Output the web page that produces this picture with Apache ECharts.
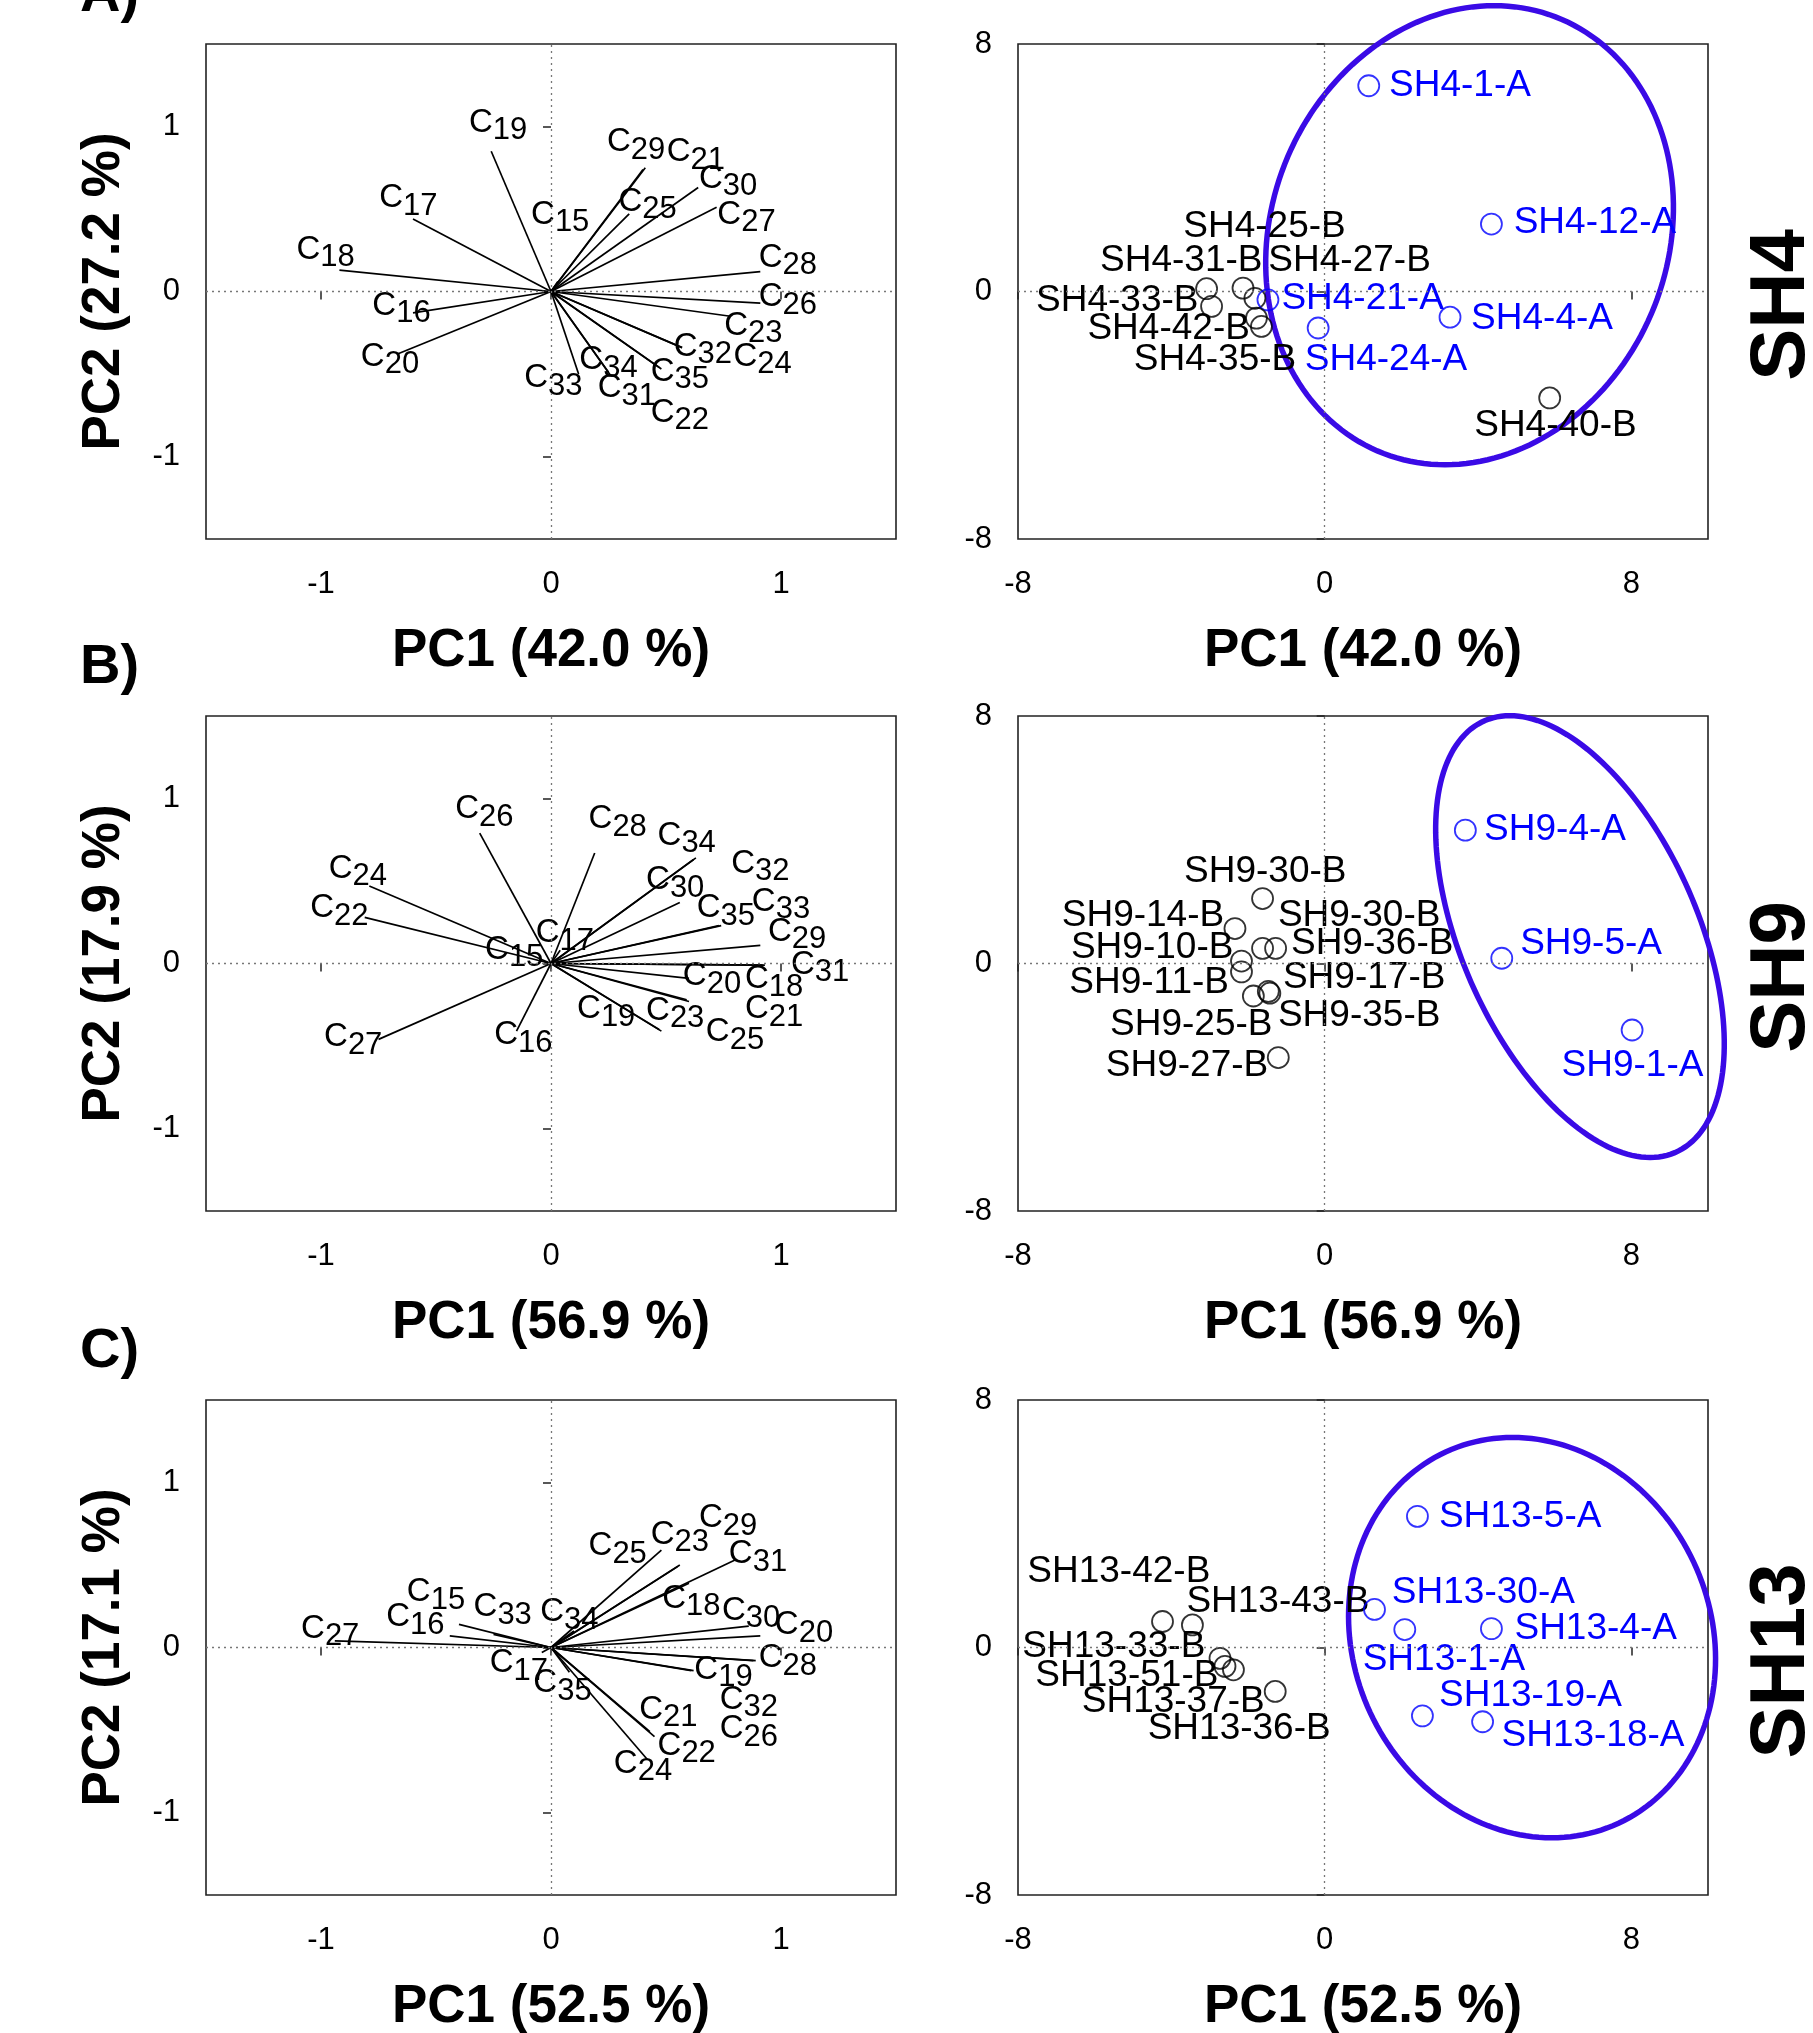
<!DOCTYPE html>
<html><head><meta charset="utf-8">
<script src="https://cdn.jsdelivr.net/npm/echarts@6/dist/echarts.min.js"></script>
<style>html,body{margin:0;padding:0;background:#fff}#c{width:1813px;height:2033px}</style>
</head><body><div id="c"></div>
<script>
// ---------------- DATA ----------------
const loadNums = [15,16,17,18,19,20,21,22,23,24,25,26,27,28,29,30,31,32,33,34,35];

// Panel A (SH4) loadings
const loadXA = [0.03,-0.60,-0.60,-0.92,-0.26,-0.67,0.40,0.47,0.78,0.57,0.34,0.91,0.72,0.91,0.41,0.64,0.26,0.57,0.12,0.25,0.48];
const loadYA = [0.06,-0.13,0.44,0.13,0.85,-0.38,0.74,-0.46,-0.15,-0.34,0.47,-0.07,0.51,0.12,0.75,0.63,-0.51,-0.34,-0.50,-0.49,-0.47];
const labXA  = [0.04,-0.65,-0.62,-0.98,-0.23,-0.70,0.63,0.56,0.88,0.92,0.42,1.03,0.85,1.03,0.37,0.77,0.33,0.66,0.01,0.25,0.56];
const labYA  = [0.44,-0.11,0.54,0.23,1.00,-0.42,0.82,-0.76,-0.23,-0.42,0.52,-0.06,0.44,0.18,0.88,0.66,-0.61,-0.36,-0.55,-0.44,-0.51];

// Panel B (SH9) loadings
const loadXB = [-0.05,-0.15,0.04,0.92,0.48,0.60,0.59,-0.81,0.60,-0.79,0.47,-0.31,-0.75,0.19,0.91,0.56,0.93,0.62,0.73,0.63,0.74];
const loadYB = [0.02,-0.41,0.08,-0.01,-0.41,-0.09,-0.22,0.28,-0.23,0.47,-0.40,0.79,-0.46,0.67,0.11,0.37,-0.01,0.63,0.23,0.64,0.23];
const labXB  = [-0.16,-0.12,0.06,0.97,0.24,0.70,0.97,-0.92,0.54,-0.84,0.80,-0.29,-0.86,0.29,1.07,0.54,1.17,0.91,1.00,0.59,0.76];
const labYB  = [0.06,-0.46,0.16,-0.12,-0.30,-0.10,-0.30,0.31,-0.31,0.55,-0.44,0.91,-0.47,0.85,0.17,0.48,-0.03,0.58,0.35,0.75,0.31];

// Panel C (SH13) loadings
const loadXC = [-0.40,-0.44,-0.04,0.60,0.62,0.91,0.43,0.45,0.56,0.42,0.48,0.88,-0.94,0.89,0.55,0.86,0.80,0.61,-0.25,0.10,0.08];
const loadYC = [0.14,0.07,-0.03,0.39,-0.14,0.07,-0.51,-0.54,0.50,-0.68,0.59,-0.08,0.04,-0.08,0.49,0.13,0.53,-0.14,0.08,0.10,-0.15];
const labXC  = [-0.50,-0.59,-0.14,0.61,0.75,1.10,0.51,0.59,0.56,0.40,0.29,0.86,-0.96,1.03,0.77,0.87,0.90,0.86,-0.21,0.08,0.05];
const labYC  = [0.31,0.16,-0.12,0.27,-0.16,0.11,-0.40,-0.62,0.66,-0.73,0.59,-0.52,0.09,-0.09,0.76,0.20,0.54,-0.34,0.22,0.19,-0.24];

// Panel A scores
const scoreNamesA = ['SH4-1-A','SH4-12-A','SH4-25-B','SH4-31-B','SH4-27-B','SH4-21-A','SH4-33-B','SH4-4-A','SH4-42-B','SH4-35-B','SH4-24-A','SH4-40-B'];
const scoreXA = [1.15,4.35,-2.13,-3.08,-1.82,-1.48,-2.95,3.27,-1.78,-1.65,-0.17,5.87];
const scoreYA = [6.65,2.18,0.11,0.09,-0.22,-0.27,-0.48,-0.83,-0.86,-1.13,-1.18,-3.44];
const scoreLabXA = [3.53,7.05,-1.57,-3.74,0.65,0.99,-5.41,5.67,-4.07,-2.86,1.60,6.02];
const scoreLabYA = [6.65,2.21,2.09,1.00,1.00,-0.25,-0.31,-0.89,-1.20,-2.22,-2.22,-4.33];

// Panel B scores
const scoreNamesB = ['SH9-4-A','SH9-5-A','SH9-1-A','SH9-30-B','SH9-14-B','SH9-30-B','SH9-10-B','SH9-36-B','SH9-11-B','SH9-17-B','SH9-25-B','SH9-35-B','SH9-27-B'];
const scoreXB = [3.67,4.62,8.02,-1.62,-2.34,-1.62,-2.17,-1.28,-2.17,-1.47,-1.86,-1.43,-1.21];
const scoreYB = [4.31,0.17,-2.15,2.10,1.13,0.49,0.08,0.49,-0.27,-0.90,-1.05,-0.96,-3.04];
const scoreLabXB = [6.01,6.95,8.03,-1.55,-4.74,0.90,-4.50,1.24,-4.58,1.03,-3.48,0.90,-3.59];
const scoreLabYB = [4.32,0.65,-3.31,2.98,1.54,1.54,0.50,0.65,-0.63,-0.47,-1.97,-1.69,-3.31];

// Panel C scores
const scoreNamesC = ['SH13-5-A','SH13-42-B','SH13-43-B','SH13-30-A','SH13-4-A','SH13-1-A','SH13-33-B','SH13-51-B','SH13-19-A','SH13-37-B','SH13-36-B','SH13-18-A'];
const scoreXC = [2.42,-4.23,-3.45,1.30,4.35,2.09,-2.73,-2.60,2.55,-2.38,-1.29,4.12];
const scoreYC = [4.24,0.84,0.73,1.23,0.61,0.58,-0.35,-0.61,-2.21,-0.72,-1.42,-2.40];
const scoreLabXC = [5.10,-5.37,-1.22,4.14,7.07,3.11,-5.50,-5.16,5.37,-3.95,-2.23,7.00];
const scoreLabYC = [4.24,2.45,1.48,1.78,0.59,-0.39,0.03,-0.91,-1.56,-1.75,-2.64,-2.84];

// Group ellipses: centre, vertical conjugate half-axis, horizontal conjugate half-axis (data units)
const ellCenterA = [3.78, 1.82], ellUA = [0.64, 7.42], ellWA = [5.28, 0];
const ellCenterB = [6.66, 0.87], ellUB = [-1.83, 7.14], ellWB = [3.29, 0];
const ellCenterC = [5.41, 0.32], ellUC = [-0.51, 6.47], ellWC = [4.76, 0];

// Axis texts
const pc1Titles = ['PC1 (42.0 %)','PC1 (56.9 %)','PC1 (52.5 %)'];
const pc2Titles = ['PC2 (27.2 %)','PC2 (17.9 %)','PC2 (17.1 %)'];
const panelLetters = ['A)','B)','C)'];
const sideLabels = ['SH4','SH9','SH13'];
const loadTicks = [-1, 0, 1];
const scoreTicks = [-8, 0, 8];

// ---------------- LAYOUT / STYLE ----------------
const FONT = "'Liberation Sans', Arial, Helvetica, sans-serif";
const BLUE = '#0000FF';
const ELL = '#3A0AE6';
const tops = [44, 716, 1400];
const LEFT_X = 206, RIGHT_X = 1018, GW = 690, GH = 495;

const panels = [
  {lx: loadXA, ly: loadYA, tx: labXA, ty: labYA, sn: scoreNamesA, sx: scoreXA, sy: scoreYA, slx: scoreLabXA, sly: scoreLabYA, ec: ellCenterA, eu: ellUA, ew: ellWA},
  {lx: loadXB, ly: loadYB, tx: labXB, ty: labYB, sn: scoreNamesB, sx: scoreXB, sy: scoreYB, slx: scoreLabXB, sly: scoreLabYB, ec: ellCenterB, eu: ellUB, ew: ellWB},
  {lx: loadXC, ly: loadYC, tx: labXC, ty: labYC, sn: scoreNamesC, sx: scoreXC, sy: scoreYC, slx: scoreLabXC, sly: scoreLabYC, ec: ellCenterC, eu: ellUC, ew: ellWC}
];

const grids = [], xAxes = [], yAxes = [], series = [], graphics = [];

function axisCommon(ticks) {
  return {
    type: 'value',
    axisLine: {show: false},
    splitLine: {show: false},
    axisTick: {show: true, inside: false, length: 8, customValues: ticks, lineStyle: {color: '#222', width: 1.5}},
    axisLabel: {customValues: ticks, fontSize: 31, fontFamily: FONT, color: '#000', margin: 26}
  };
}

const zeroMark = {
  silent: true, symbol: 'none', animation: false,
  label: {show: false},
  lineStyle: {type: [2, 4], color: '#777', width: 1.3},
  data: [{xAxis: 0}, {yAxis: 0}]
};

panels.forEach((P, i) => {
  const gL = i * 2, gR = i * 2 + 1;
  grids.push({left: LEFT_X, top: tops[i], width: GW, height: GH, show: true, borderColor: '#222', borderWidth: 1.6, backgroundColor: 'transparent'});
  grids.push({left: RIGHT_X, top: tops[i], width: GW, height: GH, show: true, borderColor: '#222', borderWidth: 1.6, backgroundColor: 'transparent'});
  xAxes.push(Object.assign(axisCommon(loadTicks), {gridIndex: gL, min: -1.5, max: 1.5}));
  yAxes.push(Object.assign(axisCommon(loadTicks), {gridIndex: gL, min: -1.5, max: 1.5}));
  xAxes.push(Object.assign(axisCommon(scoreTicks), {gridIndex: gR, min: -8, max: 10}));
  yAxes.push(Object.assign(axisCommon(scoreTicks), {gridIndex: gR, min: -8, max: 8}));
  xAxes[gL].axisLabel.margin = 30; xAxes[gR].axisLabel.margin = 30;

  // zero reference lines
  series.push({type: 'scatter', xAxisIndex: gL, yAxisIndex: gL, data: [[0, 0]], symbolSize: 0, silent: true, markLine: zeroMark});
  series.push({type: 'scatter', xAxisIndex: gR, yAxisIndex: gR, data: [[0, 0]], symbolSize: 0, silent: true, markLine: zeroMark});

  // loading vectors
  series.push({
    type: 'custom', xAxisIndex: gL, yAxisIndex: gL, silent: true, clip: false,
    data: P.lx.map((x, k) => [x, P.ly[k]]),
    renderItem(params, api) {
      const p0 = api.coord([0, 0]);
      const p1 = api.coord([api.value(0), api.value(1)]);
      return {type: 'line', shape: {x1: p0[0], y1: p0[1], x2: p1[0], y2: p1[1]}, style: {stroke: '#000', lineWidth: 1.7}};
    }
  });
  // loading labels
  series.push({
    type: 'custom', xAxisIndex: gL, yAxisIndex: gL, silent: true, clip: false,
    data: P.tx.map((x, k) => [x, P.ty[k]]),
    renderItem(params, api) {
      const p = api.coord([api.value(0), api.value(1)]);
      return {type: 'text', x: p[0], y: p[1], style: {
        text: '{c|C}{s|' + loadNums[params.dataIndex] + '}',
        align: 'center', verticalAlign: 'middle', fill: '#000',
        rich: {
          c: {fontSize: 33, fontFamily: FONT, fill: '#000', padding: [0, 0, 8, 0]},
          s: {fontSize: 31, fontFamily: FONT, fill: '#000', padding: [8, 0, 0, 0]}
        }
      }};
    }
  });

  // ellipse
  series.push({
    type: 'custom', xAxisIndex: gR, yAxisIndex: gR, silent: true, clip: false,
    data: [[P.ec[0], P.ec[1]]],
    renderItem(params, api) {
      const pts = [];
      for (let k = 0; k < 180; k++) {
        const t = k / 180 * Math.PI * 2;
        const c = Math.cos(t), s = Math.sin(t);
        pts.push(api.coord([P.ec[0] + P.eu[0] * c + P.ew[0] * s, P.ec[1] + P.eu[1] * c + P.ew[1] * s]));
      }
      return {type: 'polygon', shape: {points: pts}, style: {fill: 'none', stroke: ELL, lineWidth: 5.5}};
    }
  });

  // score points
  const isA = P.sn.map(n => /-A$/.test(n));
  series.push({
    type: 'scatter', xAxisIndex: gR, yAxisIndex: gR, silent: true,
    symbol: 'circle', symbolSize: 21,
    data: P.sx.map((x, k) => ({value: [x, P.sy[k]], itemStyle: {color: 'rgba(0,0,0,0)', borderColor: isA[k] ? BLUE : '#000', borderWidth: 1.8}}))
  });
  // score labels
  series.push({
    type: 'custom', xAxisIndex: gR, yAxisIndex: gR, silent: true, clip: false,
    data: P.slx.map((x, k) => [x, P.sly[k]]),
    renderItem(params, api) {
      const p = api.coord([api.value(0), api.value(1)]);
      const k = params.dataIndex;
      return {type: 'text', x: p[0], y: p[1], style: {
        text: P.sn[k], align: 'center', verticalAlign: 'middle',
        fontSize: 37, fontFamily: FONT, fill: isA[k] ? BLUE : '#000'
      }};
    }
  });

  // titles
  const titleY = tops[i] + GH + 112;
  graphics.push({type: 'text', x: LEFT_X + GW / 2, y: titleY, style: {text: pc1Titles[i], font: 'bold 53px ' + FONT, fill: '#000', align: 'center', verticalAlign: 'middle'}});
  graphics.push({type: 'text', x: RIGHT_X + GW / 2, y: titleY, style: {text: pc1Titles[i], font: 'bold 53px ' + FONT, fill: '#000', align: 'center', verticalAlign: 'middle'}});
  graphics.push({type: 'text', x: 104, y: tops[i] + GH / 2, rotation: Math.PI / 2, style: {text: pc2Titles[i], font: 'bold 53px ' + FONT, fill: '#000', align: 'center', verticalAlign: 'middle'}});
  graphics.push({type: 'text', x: 80, y: tops[i] - 48, style: {text: panelLetters[i], font: 'bold 56px ' + FONT, fill: '#000', align: 'left', verticalAlign: 'middle'}});
  graphics.push({type: 'text', x: 1782, y: tops[i] + 261, rotation: Math.PI / 2, style: {text: sideLabels[i], font: 'bold 78px ' + FONT, fill: '#000', align: 'center', verticalAlign: 'middle'}});
});

const chart = echarts.init(document.getElementById('c'), null, {renderer: 'canvas'});
chart.setOption({
  animation: false,
  backgroundColor: '#fff',
  grid: grids, xAxis: xAxes, yAxis: yAxes, series: series, graphic: graphics
});
</script></body></html>
